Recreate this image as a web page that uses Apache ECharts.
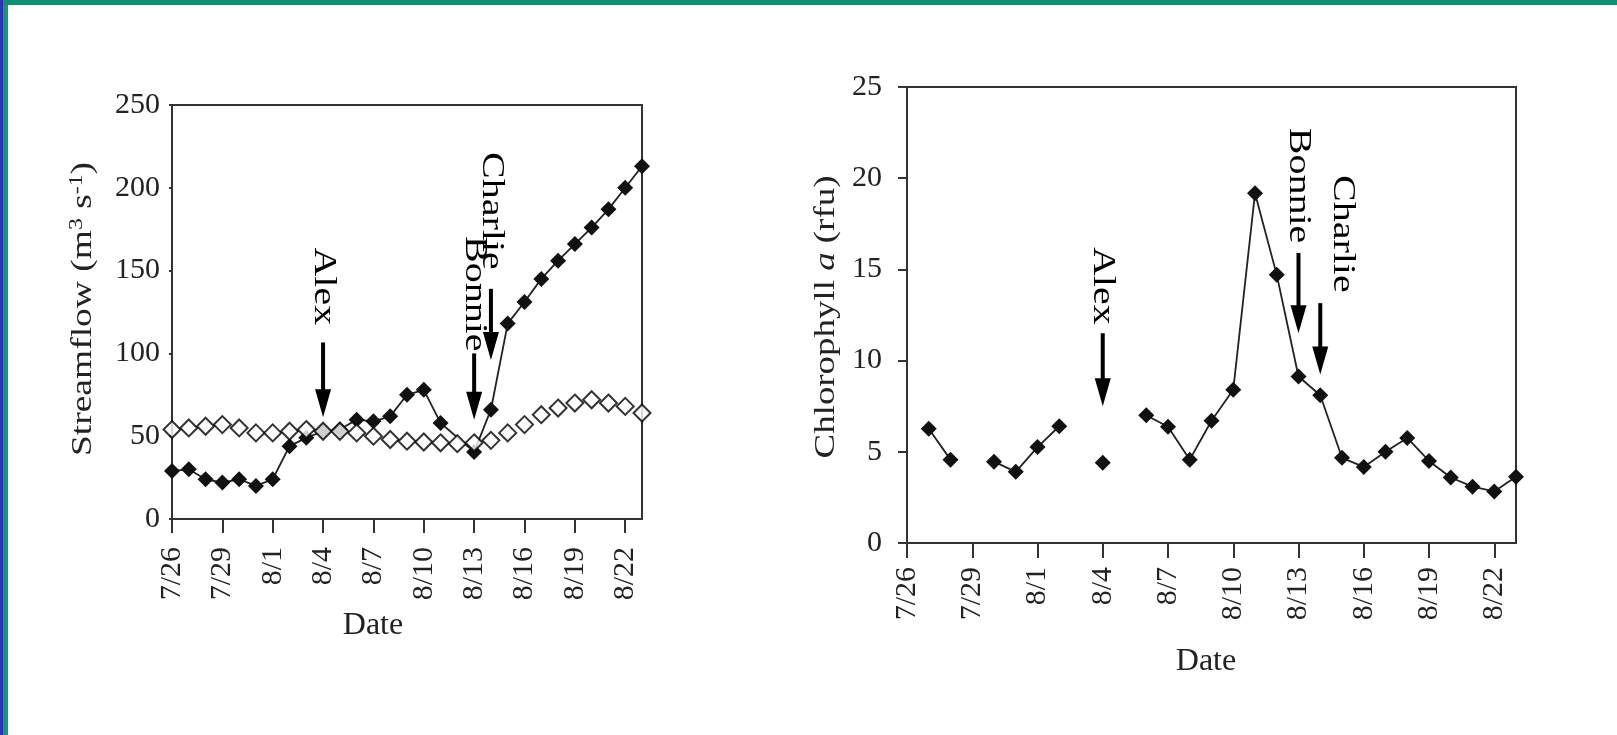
<!DOCTYPE html>
<html><head><meta charset="utf-8">
<script src="https://cdn.jsdelivr.net/npm/echarts@6/dist/echarts.min.js"></script>
<style>html,body{margin:0;padding:0;background:#fff}#c{width:1617px;height:735px}</style>
</head><body><div id="c"></div>
<script>
// ---- data ----
const dates = ['7/26','7/27','7/28','7/29','7/30','7/31','8/1','8/2','8/3','8/4','8/5','8/6','8/7','8/8','8/9','8/10',
  '8/11','8/12','8/13','8/14','8/15','8/16','8/17','8/18','8/19','8/20','8/21','8/22','8/23'];
const streamflowObserved = [29,30,24,22,24,20,24,44,49,53,54,60,59,62,75,78,58,null,40.5,66,118,131,145,156,166,176,187,200,213];
const streamflowMedian = [54,55,56,57,55,52,52,53,54,53,53,52,50,48,47,46.5,46,45.5,46,47.5,52,57,63,67,70,72,70,68,64];
const chlorophyll = [null,6.26,4.57,null,4.46,3.9,5.26,6.4,null,4.4,null,7.0,6.37,4.57,6.7,8.4,19.17,14.7,9.13,8.1,4.67,4.17,5.0,5.76,4.5,3.59,3.09,2.83,3.63];
const streamflowRange = [0, 250, 50];
const chlorophyllRange = [0, 25, 5];
const stormNames = ['Alex','Bonnie','Charlie'];
// annotation anchors in data units: [day index, value]
const leftStormLabels = [[9.05,140.5],[17.57,136],[19.45,186]];
const leftStormArrows = [[9.0,106.6,61.5],[18.05,100,60],[19.0,139,96]];
const rightStormLabels = [[9.24,14.1],[18.0,19.6],[19.76,16.95]];
const rightStormArrows = [[9.15,11.5,7.5],[18.1,15.9,11.5],[19.26,13.15,9.24]];

const FONT = "'Liberation Serif','Times New Roman',serif";
const INK = '#222';
const chart = echarts.init(document.getElementById('c'));

function xAxis(gi, tickLen, margin) {
  return {type:'category', gridIndex:gi, data:dates, boundaryGap:false,
    axisLine:{show:true, onZero:false, lineStyle:{color:'#333', width:2}},
    axisTick:{show:true, interval:2, length:tickLen, inside:false, lineStyle:{color:'#333', width:2}},
    axisLabel:{interval:2, rotate:90, margin:margin, fontSize:30, fontFamily:FONT, color:INK},
    splitLine:{show:false}};
}
function yAxis(gi, range, tickLen, margin) {
  return {type:'value', gridIndex:gi, min:range[0], max:range[1], interval:range[2],
    axisLine:{show:true, lineStyle:{color:'#333', width:2}},
    axisTick:{show:true, length:tickLen, inside:false, lineStyle:{color:'#333', width:2}},
    axisLabel:{margin:margin, fontSize:30, fontFamily:FONT, color:INK},
    splitLine:{show:false}};
}

const borders = [
  {type:'rect', shape:{x:0,y:0,width:3,height:735}, style:{fill:'#3131b5'}, z:200},
  {type:'rect', shape:{x:3,y:0,width:5,height:735}, style:{fill:'#13987a'}, z:200},
  {type:'rect', shape:{x:3,y:0,width:1614,height:5}, style:{fill:'#0f9070'}, z:200}
];

chart.setOption({
  animation:false,
  backgroundColor:'#fff',
  grid:[
    {left:172, top:105, width:470, height:414, show:true, borderColor:'#333', borderWidth:2, outerBoundsMode:'none'},
    {left:907, top:87, width:609, height:456, show:true, borderColor:'#333', borderWidth:2, outerBoundsMode:'none'}
  ],
  xAxis:[xAxis(0,14,28), xAxis(1,15,24)],
  yAxis:[yAxis(0,streamflowRange,3,12), yAxis(1,chlorophyllRange,9,25)],
  series:[
    {type:'line', name:'observed', xAxisIndex:0, yAxisIndex:0, data:streamflowObserved, connectNulls:true,
      symbol:'diamond', symbolSize:16, showAllSymbol:true, itemStyle:{color:'#111'},
      lineStyle:{color:INK, width:1.8}, z:3, silent:true},
    {type:'scatter', name:'median', xAxisIndex:0, yAxisIndex:0, data:streamflowMedian,
      symbol:'diamond', symbolSize:17, itemStyle:{color:'#fff', borderColor:'#000', borderWidth:2}, z:4, silent:true},
    {type:'line', name:'chl', xAxisIndex:1, yAxisIndex:1, data:chlorophyll, connectNulls:false,
      symbol:'diamond', symbolSize:16, showAllSymbol:true, itemStyle:{color:'#111'},
      lineStyle:{color:INK, width:1.8}, z:3, silent:true}
  ]
});

const g = borders.slice();
function textEl(x, y, text, size, rot, sx, fill, rich) {
  return {type:'text', x:x, y:y, rotation:rot, scaleX:sx, z:150,
    style:{text:text, fontSize:size, fontFamily:FONT, fill:fill, textAlign:'center', textVerticalAlign:'middle',
      align:'center', verticalAlign:'middle', rich:rich || {}}};
}
function addStorms(gi, labels, arrows) {
  stormNames.forEach((nm, i) => {
    const p = chart.convertToPixel({gridIndex:gi}, labels[i]);
    g.push(textEl(p[0], p[1], nm, 32, -Math.PI/2, 1.25, '#000'));
    const a = arrows[i];
    const p1 = chart.convertToPixel({gridIndex:gi}, [a[0], a[1]]);
    const p2 = chart.convertToPixel({gridIndex:gi}, [a[0], a[2]]);
    const x = p1[0], headL = 28, headW = 16;
    g.push({type:'line', z:150, shape:{x1:x, y1:p1[1], x2:x, y2:p2[1]-headL+2}, style:{stroke:'#000', lineWidth:4}});
    g.push({type:'polygon', z:150, shape:{points:[[x-headW/2,p2[1]-headL],[x+headW/2,p2[1]-headL],[x,p2[1]]]}, style:{fill:'#000'}});
  });
}
addStorms(0, leftStormLabels, leftStormArrows);
addStorms(1, rightStormLabels, rightStormArrows);

g.push(textEl(83, 309, 'Streamflow (m{sup|3} s{sup|-1})', 30, Math.PI/2, 1.25, INK,
  {sup:{fontSize:19, fontFamily:FONT, fill:INK, verticalAlign:'top'}}));
g.push(textEl(826, 317, 'Chlorophyll {it|a} (rfu)', 30, Math.PI/2, 1.23, INK,
  {it:{fontSize:30, fontFamily:FONT, fontStyle:'italic', fill:INK}}));
g.push(textEl(373, 626, 'Date', 32, 0, 1, INK));
g.push(textEl(1206, 662, 'Date', 32, 0, 1, INK));

chart.setOption({graphic:{elements:g}});
</script>
</body></html>
